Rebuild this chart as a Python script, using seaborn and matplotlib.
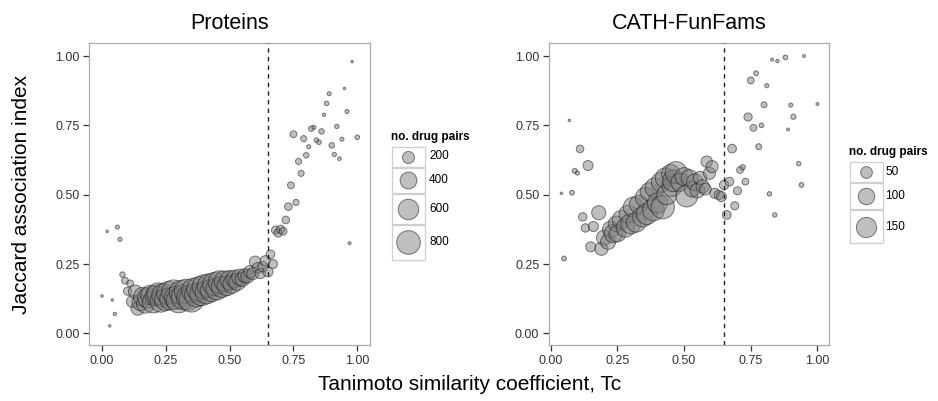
import numpy as np
import pandas as pd
import matplotlib
matplotlib.use("Agg")
import matplotlib.pyplot as plt
import seaborn as sns
from matplotlib.patches import Rectangle

sns.set_theme(style="white")
plt.rcParams['font.family'] = ['Liberation Sans', 'DejaVu Sans']

# ---------------- data: Proteins ----------------
prot_tc = [0.00, 0.02, 0.03, 0.04, 0.05, 0.06, 0.07, 0.08, 0.09, 0.10, 0.11, 0.12, 0.13, 0.14,
           0.15, 0.16, 0.17, 0.18, 0.19, 0.20, 0.21, 0.22, 0.23, 0.24, 0.25, 0.26, 0.27, 0.28,
           0.29, 0.30, 0.31, 0.32, 0.33, 0.34, 0.35, 0.36, 0.37, 0.38, 0.39, 0.40, 0.41, 0.42,
           0.43, 0.44, 0.45, 0.46, 0.47, 0.48, 0.49, 0.50, 0.51, 0.52, 0.53, 0.54, 0.55, 0.56,
           0.57, 0.58, 0.59, 0.60, 0.61, 0.62, 0.63, 0.64, 0.65, 0.66, 0.67, 0.68, 0.69, 0.70,
           0.71, 0.72, 0.73, 0.74, 0.75, 0.76, 0.77, 0.78, 0.79, 0.80, 0.81, 0.82, 0.83, 0.84,
           0.85, 0.86, 0.87, 0.88, 0.89, 0.90, 0.91, 0.92, 0.93, 0.94, 0.95, 0.96, 0.97, 0.98, 1.00]
prot_jac = [0.135, 0.368, 0.027, 0.120, 0.070, 0.383, 0.339, 0.212, 0.190, 0.152, 0.180, 0.115, 0.150, 0.090,
            0.112, 0.132, 0.105, 0.128, 0.138, 0.112, 0.135, 0.142, 0.115, 0.138, 0.122, 0.145, 0.125, 0.150,
            0.128, 0.118, 0.148, 0.130, 0.152, 0.128, 0.122, 0.155, 0.138, 0.160, 0.142, 0.168, 0.148, 0.172,
            0.155, 0.178, 0.160, 0.185, 0.168, 0.188, 0.172, 0.192, 0.178, 0.196, 0.186, 0.202, 0.195, 0.208,
            0.205, 0.222, 0.215, 0.258, 0.236, 0.216, 0.240, 0.262, 0.222, 0.285, 0.250, 0.372, 0.362, 0.375,
            0.368, 0.409, 0.457, 0.534, 0.718, 0.472, 0.620, 0.577, 0.702, 0.642, 0.673, 0.738, 0.743, 0.697,
            0.689, 0.728, 0.788, 0.829, 0.864, 0.678, 0.645, 0.746, 0.630, 0.700, 0.883, 0.800, 0.325, 0.980, 0.707]
prot_n = [1, 1, 1, 1, 8, 16, 16, 35, 60, 89, 60, 211, 260, 260,
          380, 500, 450, 600, 550, 650, 600, 700, 650, 750, 700, 780, 720, 800,
          760, 850, 800, 880, 820, 860, 900, 840, 800, 860, 780, 820, 760, 800,
          720, 760, 680, 720, 640, 600, 560, 520, 480, 440, 420, 380, 300, 280,
          250, 220, 200, 180, 160, 150, 150, 140, 140, 100, 110, 89, 89, 89,
          75, 75, 75, 60, 60, 46, 46, 46, 46, 35, 16, 35, 16, 22,
          22, 35, 8, 22, 16, 35, 19, 19, 12, 16, 1, 16, 5, 1, 22]

# ---------------- data: CATH-FunFams ----------------
fam_tc = [0.04, 0.05, 0.07, 0.08, 0.09, 0.10, 0.11, 0.12, 0.13, 0.14, 0.15, 0.16, 0.18, 0.19,
          0.20, 0.215, 0.225, 0.235, 0.245, 0.25, 0.265, 0.28, 0.29, 0.30, 0.31, 0.32, 0.33, 0.345,
          0.355, 0.36, 0.37, 0.385, 0.39, 0.40, 0.415, 0.42, 0.43, 0.435, 0.45, 0.455, 0.46, 0.47,
          0.485, 0.50, 0.51, 0.52, 0.53, 0.54, 0.55, 0.56, 0.57, 0.58, 0.585, 0.595, 0.605, 0.615,
          0.63, 0.64, 0.65, 0.66, 0.67, 0.68, 0.69, 0.70, 0.71, 0.72, 0.73, 0.74, 0.75, 0.76,
          0.77, 0.78, 0.79, 0.80, 0.81, 0.82, 0.83, 0.84, 0.85, 0.88, 0.89, 0.90, 0.91, 0.93,
          0.94, 0.95, 1.00]
fam_jac = [0.505, 0.270, 0.768, 0.507, 0.586, 0.578, 0.665, 0.420, 0.380, 0.605, 0.312, 0.385, 0.435, 0.305,
           0.345, 0.330, 0.375, 0.360, 0.395, 0.360, 0.410, 0.380, 0.430, 0.395, 0.455, 0.400, 0.465, 0.420,
           0.490, 0.430, 0.510, 0.445, 0.525, 0.470, 0.545, 0.455, 0.560, 0.500, 0.575, 0.530, 0.550, 0.580,
           0.545, 0.565, 0.495, 0.560, 0.520, 0.545, 0.515, 0.560, 0.530, 0.520, 0.619, 0.577, 0.601, 0.505,
           0.499, 0.493, 0.535, 0.427, 0.547, 0.666, 0.460, 0.514, 0.589, 0.599, 0.547, 0.780, 0.912, 0.741,
           0.938, 0.673, 0.750, 0.824, 0.893, 0.503, 0.987, 0.427, 0.982, 0.995, 0.735, 0.823, 0.781, 0.612,
           0.535, 1.000, 0.827]
fam_n = [1, 7, 1, 7, 8, 5, 20, 25, 25, 36, 36, 36, 72, 63,
         83, 83, 100, 125, 90, 103, 125, 125, 120, 149, 149, 140, 125, 149,
         149, 160, 125, 175, 140, 149, 149, 200, 150, 149, 130, 149, 170, 175,
         125, 120, 175, 103, 90, 103, 80, 65, 65, 50, 47, 53, 53, 36,
         31, 36, 31, 27, 27, 27, 23, 23, 16, 9, 16, 24, 16, 16,
         7, 12, 7, 12, 5, 6, 2, 6, 3, 7, 2, 5, 9, 6,
         7, 2, 2]

prot_legend = [200, 400, 600, 800]
fam_legend = [50, 100, 150]
threshold = 0.65
xticks = [0.0, 0.25, 0.5, 0.75, 1.0]
yticks = [0.0, 0.25, 0.5, 0.75, 1.0]

# ---------------- figure ----------------
W, H = 938, 401
fig = plt.figure(figsize=(W / 100, H / 100), dpi=100)


def add_ax(l, t, r, b):
    return fig.add_axes([l / W, 1 - b / H, (r - l) / W, (b - t) / H])


FACE = (0.5, 0.5, 0.5, 0.5)
EDGE = (0.1, 0.1, 0.1, 0.55)
TXT = '#333333'


def panel(ax, x, y, n, norm, sizes, xlim, title):
    df = pd.DataFrame({"tc": x, "jac": y, "n": n})
    sns.scatterplot(data=df, x="tc", y="jac", size="n", size_norm=norm, sizes=sizes,
                    ax=ax, legend=False, facecolor=FACE, edgecolor=EDGE, linewidth=0.7)
    ax.axvline(threshold, color='#222222', lw=1.0, ls=(0, (3.2, 3.0)), zorder=3)
    ax.set_xlim(*xlim)
    ax.set_ylim(-0.042, 1.048)
    ax.set_xticks(xticks)
    ax.set_yticks(yticks)
    ax.set_xticklabels([f"{t:.2f}" for t in xticks])
    ax.set_yticklabels([f"{t:.2f}" for t in yticks])
    ax.set_xlabel("")
    ax.set_ylabel("")
    for s in ax.spines.values():
        s.set_color('#AAAAAA')
        s.set_linewidth(0.9)
    ax.tick_params(direction='out', length=4, width=0.9, color='#333333',
                   labelsize=9, labelcolor=TXT, pad=3,
                   bottom=True, left=True)
    ax.set_title(title, fontsize=15.5, pad=10, color='black')


ax1 = add_ax(89.3, 42.7, 370, 345)
ax2 = add_ax(549, 42.7, 829.3, 345)

prot_norm, prot_sizes = (0, 900), (2.9, 2.9 + 0.36 * 900)
fam_norm, fam_sizes = (0, 200), (1.86, 1.86 + 1.40 * 200)

panel(ax1, prot_tc, prot_jac, prot_n, prot_norm, prot_sizes, (-0.05, 1.05), "Proteins")
panel(ax2, fam_tc, fam_jac, fam_n, fam_norm, fam_sizes, (-0.0065, 1.0445), "CATH-FunFams")


def draw_legend(x0, y_title, y_top, heights, key_w, values, norm, sizes, label_x):
    fig.text(x0 / W, 1 - y_title / H, "no. drug pairs", fontsize=8.5, fontweight='bold',
             va='center', ha='left', color='black')
    total = sum(heights)
    lax = fig.add_axes([x0 / W, 1 - (y_top + total) / H, key_w / W, total / H])
    lax.set_xlim(0, key_w)
    lax.set_ylim(total, 0)
    lax.axis('off')
    yy = 0
    for v, h in zip(values, heights):
        lax.add_patch(Rectangle((0.5, yy + 0.5), key_w - 1, h - 1, fill=False,
                                ec='#CFCFCF', lw=0.9, clip_on=False))
        area = sizes[0] + (sizes[1] - sizes[0]) * (v - norm[0]) / (norm[1] - norm[0])
        lax.scatter([key_w / 2], [yy + h / 2], s=area, fc=FACE, ec=EDGE, lw=0.7, clip_on=False)
        fig.text(label_x / W, 1 - (y_top + yy + h / 2) / H, str(v), fontsize=8.5,
                 va='center', ha='left', color='black')
        yy += h


draw_legend(391, 137, 146, [21, 26, 31, 36], 34, prot_legend, prot_norm, prot_sizes, 429)
draw_legend(849, 152, 161.7, [21, 27, 34], 34, fam_legend, fam_norm, fam_sizes, 885)

fig.text(22 / W, 1 - 194 / H, "Jaccard association index", rotation=90, fontsize=15,
         va='center', ha='center', color='black')
fig.text(470 / W, 1 - 385 / H, "Tanimoto similarity coefficient, Tc", fontsize=15,
         va='center', ha='center', color='black')

fig.savefig("out.png", dpi=100)
